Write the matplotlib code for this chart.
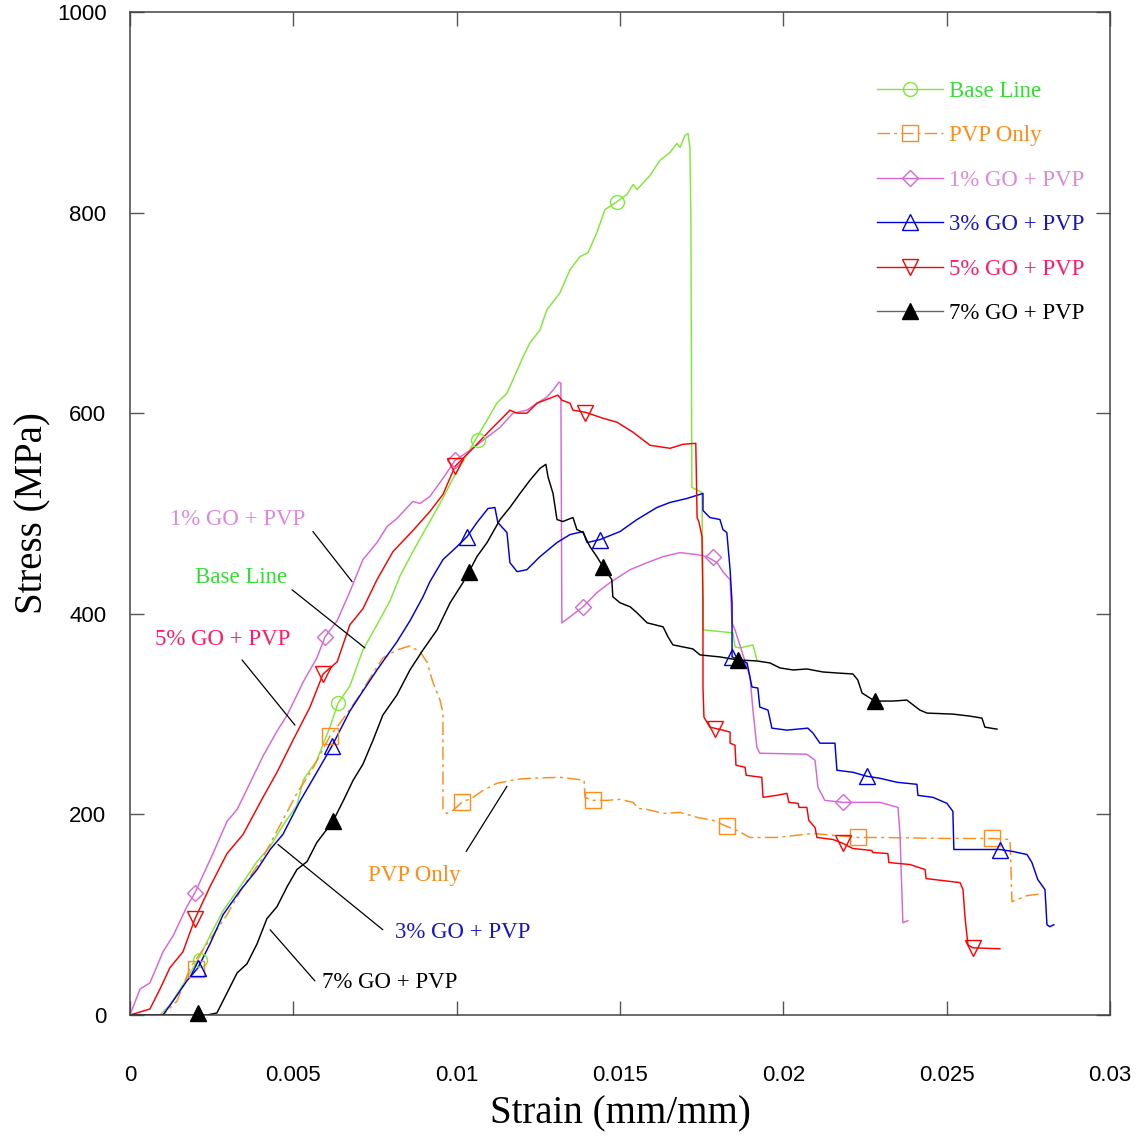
import matplotlib
matplotlib.use("Agg")
import matplotlib.pyplot as plt
from matplotlib.lines import Line2D

# ---- stress-strain curves: (strain [mm/mm], stress [MPa]) ----
base_line = [
    (0, 0), (0.00092, 0), (0.00122, 10), (0.00162, 30), (0.00208, 55), (0.00245, 79),
    (0.00285, 104), (0.00337, 128), (0.00389, 153), (0.00429, 168), (0.00468, 189),
    (0.00511, 209), (0.00530, 234), (0.00572, 254), (0.00612, 287), (0.00637, 311),
    (0.00673, 328), (0.00713, 364), (0.00756, 389), (0.00796, 413), (0.00827, 438),
    (0.00866, 462), (0.00909, 487), (0.00949, 510), (0.00989, 535), (0.01032, 559),
    (0.01062, 576), (0.01093, 593), (0.01123, 610), (0.01154, 620), (0.01172, 633),
    (0.01203, 656), (0.01224, 670), (0.01255, 683), (0.01276, 703), (0.01316, 720),
    (0.01347, 743), (0.01377, 756), (0.01402, 760), (0.01429, 780), (0.01454, 803),
    (0.01491, 811), (0.01521, 818), (0.01540, 828), (0.01552, 823), (0.01592, 837),
    (0.01622, 852), (0.01653, 860), (0.01674, 869), (0.01684, 865), (0.01699, 877),
    (0.01708, 879), (0.01714, 865), (0.01717, 793), (0.01720, 526), (0.01751, 521),
    (0.01754, 384), (0.01846, 381), (0.01852, 367), (0.01867, 366), (0.01907, 369),
    (0.01919, 354),
]

pvp_only = [
    (0, 0), (0.00101, 0), (0.00144, 14), (0.00184, 47), (0.00236, 71), (0.00297, 100),
    (0.00346, 128), (0.00407, 157), (0.00459, 189), (0.00511, 221), (0.00560, 246),
    (0.00612, 278), (0.00652, 295), (0.00695, 315), (0.00735, 336), (0.00774, 356),
    (0.00817, 364), (0.00857, 368), (0.00888, 362), (0.00909, 352), (0.00927, 332),
    (0.00949, 314), (0.00958, 301), (0.00958, 204), (0.00970, 201), (0.00989, 204),
    (0.01016, 212), (0.01050, 217), (0.01081, 224), (0.01123, 231), (0.01185, 235),
    (0.01224, 236), (0.01316, 237), (0.01368, 235), (0.01390, 234), (0.01393, 217),
    (0.01417, 214), (0.01460, 214), (0.01500, 215), (0.01540, 212), (0.01555, 206),
    (0.01583, 205), (0.01632, 201), (0.01684, 202), (0.01736, 197), (0.01785, 194),
    (0.01827, 188), (0.01858, 184), (0.01898, 177), (0.01980, 177), (0.02091, 181),
    (0.02228, 177), (0.02296, 177), (0.02501, 176), (0.02639, 176), (0.02694, 175),
    (0.02700, 113), (0.02715, 115), (0.02746, 119), (0.02795, 121),
]

go1_pvp = [
    (0, 0), (0.00031, 26), (0.00061, 32), (0.00101, 63), (0.00132, 79), (0.00174, 108),
    (0.00199, 122), (0.00254, 161), (0.00297, 193), (0.00328, 205), (0.00358, 225),
    (0.00407, 258), (0.00450, 283), (0.00481, 299), (0.00511, 319), (0.00530, 332),
    (0.00572, 356), (0.00597, 377), (0.00634, 393), (0.00673, 422), (0.00713, 454),
    (0.00756, 471), (0.00787, 487), (0.00817, 495), (0.00866, 512), (0.00888, 510),
    (0.00918, 517), (0.00958, 535), (0.00995, 553), (0.01041, 563), (0.01081, 573),
    (0.01133, 586), (0.01172, 600), (0.01215, 603), (0.01246, 610), (0.01276, 616),
    (0.01295, 623), (0.01313, 631), (0.01319, 630), (0.01322, 391), (0.01347, 397),
    (0.01387, 407), (0.01429, 421), (0.01469, 431), (0.01531, 444), (0.01583, 451),
    (0.01632, 457), (0.01684, 461), (0.01736, 459), (0.01766, 457), (0.01797, 451),
    (0.01815, 442), (0.01837, 434), (0.01843, 391), (0.01852, 384), (0.01898, 337),
    (0.01907, 304), (0.01919, 267), (0.01928, 261), (0.02072, 260), (0.02097, 254),
    (0.02106, 227), (0.02127, 214), (0.02183, 212), (0.02296, 212), (0.02351, 207),
    (0.02357, 181), (0.02366, 92), (0.02381, 94),
]

go3_pvp = [
    (0, 0), (0.00101, 0), (0.00132, 14), (0.00174, 34), (0.00208, 47), (0.00245, 71),
    (0.00285, 100), (0.00337, 124), (0.00389, 145), (0.00429, 165), (0.00468, 180),
    (0.00520, 213), (0.00572, 242), (0.00618, 268), (0.00673, 303), (0.00713, 323),
    (0.00756, 344), (0.00817, 372), (0.00857, 393), (0.00897, 417), (0.00918, 432),
    (0.00958, 454), (0.01001, 467), (0.01032, 477), (0.01062, 491), (0.01096, 505),
    (0.01117, 506), (0.01126, 491), (0.01154, 481), (0.01163, 451), (0.01185, 442),
    (0.01215, 444), (0.01255, 457), (0.01307, 471), (0.01347, 479), (0.01387, 482),
    (0.01399, 471), (0.01439, 474), (0.01500, 482), (0.01552, 494), (0.01613, 506),
    (0.01653, 511), (0.01705, 515), (0.01754, 520), (0.01754, 503), (0.01775, 496),
    (0.01806, 494), (0.01815, 484), (0.01827, 481), (0.01837, 444), (0.01843, 411),
    (0.01843, 357), (0.01889, 351), (0.01904, 327), (0.01922, 326), (0.01928, 307),
    (0.01953, 304), (0.01965, 286), (0.02011, 284), (0.02075, 286), (0.02091, 281),
    (0.02112, 271), (0.02158, 271), (0.02164, 244), (0.02213, 242), (0.02256, 238),
    (0.02296, 236), (0.02348, 232), (0.02409, 230), (0.02412, 219), (0.02458, 217),
    (0.02501, 211), (0.02519, 203), (0.02522, 165), (0.02602, 165), (0.02663, 165),
    (0.02703, 163), (0.02746, 160), (0.02761, 152), (0.02779, 135), (0.02801, 125),
    (0.02807, 90), (0.02816, 88), (0.02828, 90),
]

go5_pvp = [
    (0, 0), (0.00061, 6), (0.00092, 26), (0.00122, 47), (0.00162, 63), (0.00199, 96),
    (0.00245, 128), (0.00297, 161), (0.00346, 180), (0.00407, 217), (0.00450, 242),
    (0.00499, 274), (0.00551, 307), (0.00591, 340), (0.00634, 352), (0.00673, 389),
    (0.00713, 405), (0.00756, 434), (0.00805, 462), (0.00866, 483), (0.00918, 502),
    (0.00958, 519), (0.00995, 547), (0.01050, 565), (0.01102, 583), (0.01142, 596),
    (0.01163, 603), (0.01185, 600), (0.01215, 600), (0.01246, 610), (0.01310, 618),
    (0.01322, 613), (0.01347, 610), (0.01356, 603), (0.01393, 601), (0.01448, 595),
    (0.01491, 591), (0.01540, 581), (0.01592, 568), (0.01653, 565), (0.01693, 569),
    (0.01732, 570), (0.01736, 496), (0.01742, 491), (0.01751, 477), (0.01754, 414),
    (0.01754, 327), (0.01757, 297), (0.01775, 287), (0.01815, 284), (0.01837, 282),
    (0.01837, 271), (0.01852, 269), (0.01855, 249), (0.01883, 247), (0.01886, 239),
    (0.01934, 237), (0.01938, 217), (0.01980, 219), (0.02011, 221), (0.02017, 212),
    (0.02045, 211), (0.02048, 207), (0.02072, 207), (0.02078, 194), (0.02097, 187),
    (0.02103, 177), (0.02152, 175), (0.02183, 171), (0.02213, 166), (0.02271, 164),
    (0.02274, 162), (0.02320, 161), (0.02323, 152), (0.02388, 150), (0.02434, 145),
    (0.02437, 136), (0.02541, 132), (0.02550, 125), (0.02556, 98), (0.02565, 70),
    (0.02580, 67), (0.02663, 66),
]

go7_pvp = [
    (0, 0), (0.00236, 0), (0.00266, 2), (0.00297, 22), (0.00328, 42), (0.00358, 51),
    (0.00389, 71), (0.00419, 96), (0.00450, 108), (0.00481, 128), (0.00511, 145),
    (0.00542, 153), (0.00572, 172), (0.00621, 193), (0.00652, 213), (0.00683, 234),
    (0.00713, 250), (0.00744, 274), (0.00774, 299), (0.00817, 319), (0.00857, 344),
    (0.00897, 364), (0.00940, 384), (0.00980, 411), (0.01019, 431), (0.01038, 442),
    (0.01062, 457), (0.01093, 471), (0.01133, 494), (0.01163, 506), (0.01194, 520),
    (0.01224, 533), (0.01255, 545), (0.01273, 549), (0.01280, 536), (0.01295, 520),
    (0.01307, 494), (0.01325, 492), (0.01356, 496), (0.01368, 484), (0.01387, 481),
    (0.01408, 467), (0.01429, 457), (0.01448, 447), (0.01475, 434), (0.01478, 417),
    (0.01500, 411), (0.01531, 407), (0.01552, 401), (0.01583, 391), (0.01632, 387),
    (0.01647, 377), (0.01662, 369), (0.01723, 365), (0.01745, 359), (0.01806, 357),
    (0.01861, 354), (0.01919, 353), (0.01959, 351), (0.01990, 346), (0.02030, 344),
    (0.02072, 345), (0.02121, 342), (0.02164, 341), (0.02213, 340), (0.02228, 334),
    (0.02241, 321), (0.02280, 313), (0.02336, 313), (0.02378, 314), (0.02418, 304),
    (0.02440, 301), (0.02519, 300), (0.02571, 298), (0.02608, 296), (0.02617, 287),
    (0.02654, 285),
]

# ---- symbol positions along each curve ----
base_line_sym = [(0.00214, 55), (0.00637, 311), (0.01065, 573), (0.01491, 811)]
pvp_only_sym = [(0.00202, 46), (0.00612, 278), (0.01016, 212), (0.01417, 214),
                (0.01827, 188), (0.02228, 177), (0.02639, 176)]
go1_pvp_sym = [(0.00199, 122), (0.00597, 377), (0.00995, 553), (0.01387, 407),
               (0.01785, 457), (0.02183, 212)]
go3_pvp_sym = [(0.00208, 47), (0.00618, 268), (0.01032, 477), (0.01439, 474),
               (0.01843, 357), (0.02256, 238), (0.02663, 165)]
go5_pvp_sym = [(0.00199, 96), (0.00591, 340), (0.00995, 547), (0.01393, 600),
               (0.01791, 285), (0.02183, 171), (0.02580, 67)]
go7_pvp_sym = [(0.00208, 2), (0.00621, 193), (0.01038, 442), (0.01448, 447),
               (0.01861, 354), (0.02280, 313)]

series_names = ["Base Line", "PVP Only", "1% GO + PVP", "3% GO + PVP",
                "5% GO + PVP", "7% GO + PVP"]
curves = [base_line, pvp_only, go1_pvp, go3_pvp, go5_pvp, go7_pvp]
symbols = [base_line_sym, pvp_only_sym, go1_pvp_sym, go3_pvp_sym, go5_pvp_sym, go7_pvp_sym]

x_ticks = [0, 0.005, 0.01, 0.015, 0.02, 0.025, 0.03]
x_tick_labels = ["0", "0.005", "0.01", "0.015", "0.02", "0.025", "0.03"]
y_ticks = [0, 200, 400, 600, 800, 1000]
y_tick_labels = ["0", "200", "400", "600", "800", "1000"]

# callout labels: (text anchor strain, stress), leader line from -> to
callouts = [
    ("1% GO + PVP", (0.00122, 494), (0.00560, 482), (0.00680, 432)),
    ("Base Line", (0.00199, 436), (0.00496, 424), (0.00719, 366)),
    ("5% GO + PVP", (0.00077, 374), (0.00343, 354), (0.00505, 289)),
    ("PVP Only", (0.00729, 139), (0.01029, 163), (0.01154, 228)),
    ("3% GO + PVP", (0.00811, 82), (0.00774, 85), (0.00453, 170)),
    ("7% GO + PVP", (0.00588, 32), (0.00566, 34), (0.00429, 85)),
]

# ---- styles ----
line_colors = ["#80E838", "#FF8C1A", "#D966D6", "#0000DD", "#FF0000", "#000000"]
text_colors = ["#33DD33", "#FF8C1A", "#DD88DD", "#1515CC", "#FF1A66", "#000000"]
legend_line_colors = ["#80E838", "#FF8C1A", "#D966D6", "#0000DD", "#FF0000", "#666666"]
markers = ["o", "s", "D", "^", "v", "^"]
marker_sizes = [10, 12, 8.5, 11, 11, 11]
filled = [False, False, False, False, False, True]
dash_pvp = (0, (9, 3, 2, 3))
linestyles = ["-", dash_pvp, "-", "-", "-", "-"]

serif = "Liberation Serif"
sans = "Liberation Sans"

fig = plt.figure(figsize=(11.46, 11.35), dpi=100)
ax = fig.add_axes([130 / 1146, 1 - 1015 / 1135, 980 / 1146, 1003 / 1135])

for curve, sym, lc, mk, ms, fl, ls in zip(curves, symbols, line_colors, markers,
                                          marker_sizes, filled, linestyles):
    xs = [p[0] for p in curve]
    ys = [p[1] for p in curve]
    ax.plot(xs, ys, color=lc, lw=1.05, ls=ls, zorder=2)
    sx = [p[0] for p in sym]
    sy = [p[1] for p in sym]
    ax.plot(sx, sy, ls="none", marker=mk, ms=ms, mew=1.0,
            mec=lc, mfc=lc if fl else "none", zorder=3, clip_on=False)

for (label, txy, l0, l1), tc in zip(
        callouts, [text_colors[2], text_colors[0], text_colors[4],
                   text_colors[1], text_colors[3], text_colors[5]]):
    ax.text(txy[0], txy[1], label, color=tc, fontsize=16.5, family=serif,
            ha="left", va="center", zorder=4)
    ax.annotate("", xy=l1, xytext=l0,
                arrowprops=dict(arrowstyle="-", color="black", lw=0.9,
                                shrinkA=0, shrinkB=0))

ax.set_xlim(0, 0.03)
ax.set_ylim(0, 1000)
ax.set_xticks(x_ticks)
ax.set_xticklabels(x_tick_labels)
ax.set_yticks(y_ticks)
ax.set_yticklabels(y_tick_labels)
ax.tick_params(axis="both", direction="in", length=10, width=1.0, color="#555555",
               top=True, right=True, labelsize=16)
ax.tick_params(axis="x", pad=36)
ax.tick_params(axis="y", pad=17)
for lbl in ax.get_xticklabels() + ax.get_yticklabels():
    lbl.set_family(sans)
for sp in ax.spines.values():
    sp.set_linewidth(1.1)
    sp.set_color("#444444")

ax.set_xlabel("Strain (mm/mm)", family=serif, fontsize=28, labelpad=7)
ax.set_ylabel("Stress (MPa)", family=serif, fontsize=28, labelpad=4)

handles = []
for lc, mk, ms, fl, ls in zip(legend_line_colors, markers, marker_sizes, filled, linestyles):
    mcol = "black" if fl else lc
    handles.append(Line2D([], [], color=lc, lw=1.0, ls=ls, marker=mk, ms=ms, mew=1.0,
                          mec=mcol, mfc=mcol if fl else "none"))
leg = ax.legend(handles, series_names, loc="upper left",
                bbox_to_anchor=((877 - 130) / 980, (1015 - 81) / 1003),
                frameon=False, prop=dict(family=serif, size=16.5),
                handlelength=2.9, handletextpad=0.25, labelspacing=1.02,
                borderpad=0, borderaxespad=0)
for t, tc in zip(leg.get_texts(), text_colors):
    t.set_color(tc)

fig.savefig("out.png", dpi=100)
